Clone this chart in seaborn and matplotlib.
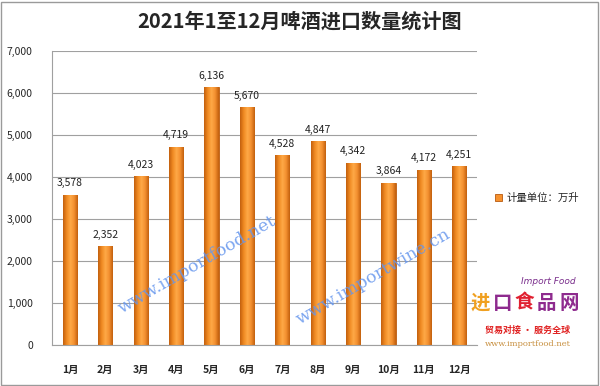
import numpy as np
import pandas as pd
import seaborn as sns
import matplotlib.pyplot as plt
from matplotlib.colors import LinearSegmentedColormap
from matplotlib.patches import Rectangle

months = ["1月", "2月", "3月", "4月", "5月", "6月", "7月", "8月", "9月", "10月", "11月", "12月"]
volumes = [3578, 2352, 4023, 4719, 6136, 5670, 4528, 4847, 4342, 3864, 4172, 4251]
y_ticks = [0, 1000, 2000, 3000, 4000, 5000, 6000, 7000]
legend_label = "计量单位：万升"

df = pd.DataFrame({"month": months, "volume": volumes})

sns.set_theme(style="white")
plt.rcParams["font.family"] = ["Noto Sans CJK SC", "DejaVu Sans"]

fig = plt.figure(figsize=(6, 3.86), dpi=100)
ax = fig.add_axes([0.087, 0.106, 0.708, 0.762])

sns.barplot(data=df, x="month", y="volume", ax=ax, width=0.4, saturation=1,
            color="#F7922E", edgecolor="#B85A10", linewidth=0.6,
            label=legend_label)

# cylinder-like shading on each bar
shade = LinearSegmentedColormap.from_list(
    "shade", ["#C2600E", "#F08A22", "#FFA947", "#F39030", "#C2600E"])
grad = np.linspace(0, 1, 64).reshape(1, -1)
for p in ax.patches:
    x0, w, h = p.get_x(), p.get_width(), p.get_height()
    im = ax.imshow(grad, cmap=shade, extent=[x0, x0 + w, 0, h],
                   aspect="auto", zorder=p.get_zorder() + 0.1)
    im.set_clip_path(p)

ax.set_xlim(-0.5, len(months) - 0.5)
ax.set_ylim(0, 7000)
ax.set_yticks(y_ticks)
ax.set_yticklabels([f"{v:,}" for v in y_ticks], fontsize=7.5)
ax.tick_params(axis="x", labelsize=7.5, pad=8)
for t in ax.get_xticklabels():
    t.set_fontweight("bold")
ax.tick_params(axis="y", pad=8)
ax.set_xlabel("")
ax.set_ylabel("")
ax.grid(axis="y", color="#A0A0A0", linewidth=0.8)
ax.set_axisbelow(True)
for side in ["top", "right"]:
    ax.spines[side].set_visible(False)
for side in ["left", "bottom"]:
    ax.spines[side].set_color("#A0A0A0")
    ax.spines[side].set_linewidth(0.8)

for p, v in zip(ax.patches, volumes):
    ax.text(p.get_x() + p.get_width() / 2, v + 150, f"{v:,}",
            ha="center", va="bottom", fontsize=7.5, color="#222222")

ax.legend(loc="center left", bbox_to_anchor=(1.02, 0.5), frameon=False,
          fontsize=7.5, handlelength=0.7, handleheight=0.7, handletextpad=0.4)

fig.text(0.5, 0.945, "2021年1至12月啤酒进口数量统计图", ha="center", va="center",
         fontsize=14.5, fontweight="heavy")

# watermarks
fig.text(0.329, 0.313, "www.importfood.net", rotation=30, fontsize=12.5,
         color="#6495ED", alpha=0.85, ha="center", va="center",
         family="DejaVu Serif", zorder=10)
fig.text(0.622, 0.282, "www.importwine.cn", rotation=30, fontsize=12.5,
         color="#6495ED", alpha=0.85, ha="center", va="center",
         family="DejaVu Serif", zorder=10)

# logo
fig.text(0.96, 0.27, "Import Food", fontsize=6.5, color="#7A2E8C", style="italic",
         ha="right", va="center", family="DejaVu Sans")
logo_chars = ["进", "口", "食", "品", "网"]
logo_colors = ["#F0A020", "#8E2B8E", "#E02030", "#8E2B8E", "#8E2B8E"]
for i, (ch, col) in enumerate(zip(logo_chars, logo_colors)):
    fig.text(0.8 + i * 0.037, 0.215, ch, fontsize=14, color=col, fontweight="bold",
             ha="center", va="center")
fig.text(0.88, 0.145, "贸易对接 · 服务全球", fontsize=6.5, color="#E02020",
         fontweight="bold", ha="center", va="center")
fig.text(0.88, 0.108, "www.importfood.net", fontsize=6, color="#C89040",
         ha="center", va="center", family="DejaVu Serif")

fig.patches.append(Rectangle((0.002, 0.003), 0.995, 0.993, transform=fig.transFigure,
                             fill=False, edgecolor="#9A9A9A", linewidth=1))

fig.savefig("out.png", dpi=100)
